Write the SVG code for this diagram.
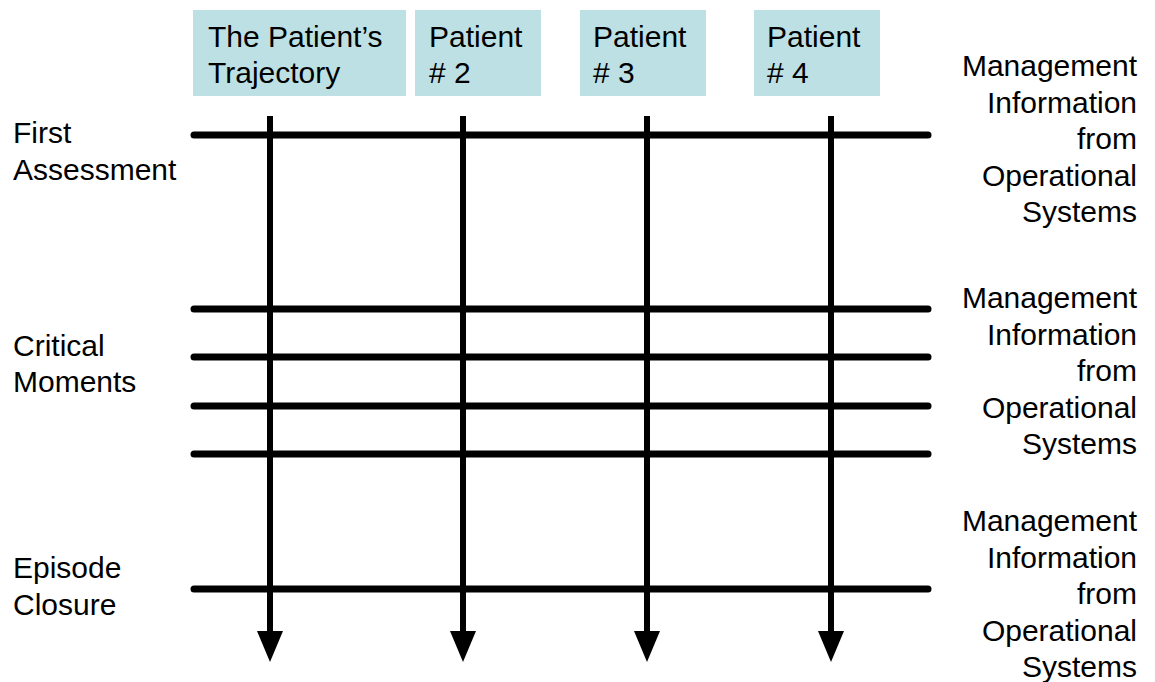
<svg xmlns="http://www.w3.org/2000/svg" width="1155" height="682" viewBox="0 0 1155 682">
<style>
text{font-family:"Liberation Sans",Arial,sans-serif;font-size:30px;fill:#000}
.box{fill:#BCE0E3}
.h{stroke:#000;stroke-width:7;stroke-linecap:round}
.v{stroke:#000;stroke-width:6}
.r{text-anchor:end}
</style>
<defs>
<marker id="ah" markerUnits="userSpaceOnUse" markerWidth="32" markerHeight="28" refX="0" refY="14" orient="auto" viewBox="0 0 32 28">
<path d="M0,1 L31,14 L0,27 Z" fill="#000"/>
</marker>
</defs>
<rect width="1155" height="682" fill="#fff"/>
<g id="connectors">
<line class="h" x1="194" y1="135" x2="928" y2="135"/>
<line class="h" x1="194" y1="309" x2="928" y2="309"/>
<line class="h" x1="194" y1="357" x2="928" y2="357"/>
<line class="h" x1="194" y1="406" x2="928" y2="406"/>
<line class="h" x1="194" y1="454" x2="928" y2="454"/>
<line class="h" x1="194" y1="589" x2="928" y2="589"/>
<line class="v" x1="270" y1="116" x2="270" y2="631" marker-end="url(#ah)"/>
<line class="v" x1="463" y1="116" x2="463" y2="631" marker-end="url(#ah)"/>
<line class="v" x1="647" y1="116" x2="647" y2="631" marker-end="url(#ah)"/>
<line class="v" x1="831" y1="116" x2="831" y2="631" marker-end="url(#ah)"/>
</g>
<g id="patient1"><rect class="box" x="193" y="10" width="213" height="86"/><text x="208" y="47">The Patient’s</text><text x="208" y="83">Trajectory</text></g>
<g id="patient2"><rect class="box" x="415" y="10" width="126" height="86"/><text x="429" y="47">Patient</text><text x="429" y="83"># 2</text></g>
<g id="patient3"><rect class="box" x="580" y="10" width="126" height="86"/><text x="593" y="47">Patient</text><text x="593" y="83"># 3</text></g>
<g id="patient4"><rect class="box" x="754" y="10" width="126" height="86"/><text x="767" y="47">Patient</text><text x="767" y="83"># 4</text></g>
<g id="first-assessment"><text x="13" y="143">First</text><text x="13" y="180">Assessment</text></g>
<g id="critical-moments"><text x="13" y="356">Critical</text><text x="13" y="392">Moments</text></g>
<g id="episode-closure"><text x="13" y="578">Episode</text><text x="13" y="615">Closure</text></g>
<g id="mi1"><text class="r" x="1137" y="76">Management</text><text class="r" x="1137" y="112.5">Information</text><text class="r" x="1137" y="149">from</text><text class="r" x="1137" y="185.5">Operational</text><text class="r" x="1137" y="222">Systems</text></g>
<g id="mi2"><text class="r" x="1137" y="308">Management</text><text class="r" x="1137" y="344.5">Information</text><text class="r" x="1137" y="381">from</text><text class="r" x="1137" y="417.5">Operational</text><text class="r" x="1137" y="454">Systems</text></g>
<g id="mi3"><text class="r" x="1137" y="531">Management</text><text class="r" x="1137" y="567.5">Information</text><text class="r" x="1137" y="604">from</text><text class="r" x="1137" y="640.5">Operational</text><text class="r" x="1137" y="677">Systems</text></g>
</svg>
